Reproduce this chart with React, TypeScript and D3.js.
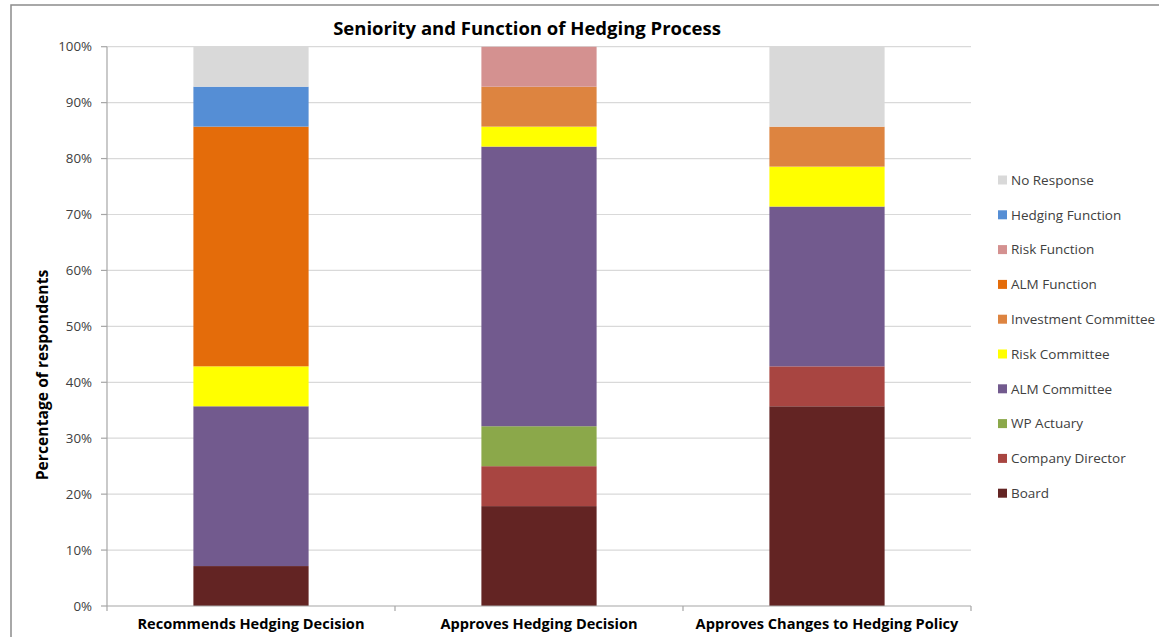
import React from "react";
import * as d3 from "d3";

// Categories along the x axis
const categories = [
  "Recommends Hedging Decision",
  "Approves Hedging Decision",
  "Approves Changes to Hedging Policy",
];

// Series, bottom of the stack first (percent of respondents)
const seriesNames = [
  "Board",
  "Company Director",
  "WP Actuary",
  "ALM Committee",
  "Risk Committee",
  "Investment Committee",
  "ALM Function",
  "Risk Function",
  "Hedging Function",
  "No Response",
];

const board = [7.14, 17.86, 35.71];
const companyDirector = [0, 7.14, 7.14];
const wpActuary = [0, 7.14, 0];
const almCommittee = [28.57, 50.0, 28.57];
const riskCommittee = [7.14, 3.57, 7.14];
const investmentCommittee = [0, 7.14, 7.14];
const almFunction = [42.86, 0, 0];
const riskFunction = [0, 7.14, 0];
const hedgingFunction = [7.14, 0, 0];
const noResponse = [7.15, 0, 14.3];

const seriesValues = [
  board,
  companyDirector,
  wpActuary,
  almCommittee,
  riskCommittee,
  investmentCommittee,
  almFunction,
  riskFunction,
  hedgingFunction,
  noResponse,
];

const seriesColors = [
  "#632423",
  "#a84541",
  "#8ba84a",
  "#725a8e",
  "#ffff00",
  "#dd8440",
  "#e46c0a",
  "#d49190",
  "#558ed5",
  "#d9d9d9",
];

const yTicks = [0, 10, 20, 30, 40, 50, 60, 70, 80, 90, 100];

const W = 1159;
const H = 637;
const plot = { left: 107, right: 971, top: 46.7, bottom: 606 };
const FONT = "'Open Sans', Lato, sans-serif";

export default function App() {
  const x = d3
    .scaleBand<string>()
    .domain(categories)
    .range([plot.left, plot.right])
    .padding(0);
  const y = d3.scaleLinear().domain([0, 100]).range([plot.bottom, plot.top]);
  const barW = x.bandwidth() / 2.5;

  const rows = categories.map((c, i) => {
    const r: Record<string, any> = { category: c };
    seriesNames.forEach((s, k) => (r[s] = seriesValues[k][i]));
    return r;
  });
  const stacked = d3.stack<any>().keys(seriesNames)(rows);

  const legendNames = [...seriesNames].reverse();
  const legendColors = [...seriesColors].reverse();

  const boundaries = [plot.left, ...categories.map((c) => (x(c) as number) + x.bandwidth())];

  return (
    <svg
      width={W}
      height={H}
      style={{ position: "absolute", left: 0, top: 0, display: "block", background: "#fff" }}
      fontFamily={FONT}
    >
      {/* chart frame */}
      <rect x={11} y={5} width={W + 20} height={H + 20} fill="#fff" stroke="#8c8c8c" strokeWidth={1.5} />

      {/* title */}
      <text x={527} y={35} textAnchor="middle" fontSize={18.5} fontWeight={700} fill="#000">
        Seniority and Function of Hedging Process
      </text>

      {/* gridlines */}
      {yTicks.slice(1).map((t) => (
        <line key={t} x1={plot.left} x2={plot.right} y1={y(t)} y2={y(t)} stroke="#d9d9d9" strokeWidth={1.2} />
      ))}

      {/* bars */}
      {stacked.map((layer, k) => (
        <g key={layer.key} fill={seriesColors[k]}>
          {layer.map((d, i) => {
            const h = y(d[0]) - y(d[1]);
            if (h <= 0) return null;
            const cx = (x(categories[i]) as number) + x.bandwidth() / 2;
            return <rect key={i} x={cx - barW / 2} y={y(d[1])} width={barW} height={h} />;
          })}
        </g>
      ))}

      {/* y axis */}
      <line x1={plot.left} x2={plot.left} y1={plot.top} y2={plot.bottom} stroke="#a6a6a6" strokeWidth={1.2} />
      {yTicks.map((t) => (
        <g key={t}>
          <line x1={plot.left - 6} x2={plot.left} y1={y(t)} y2={y(t)} stroke="#a6a6a6" strokeWidth={1.2} />
          <text x={92} y={y(t)} dy="0.35em" textAnchor="end" fontSize={13.3} fill="#404040">
            {t}%
          </text>
        </g>
      ))}

      {/* x axis */}
      <line x1={plot.left} x2={plot.right} y1={plot.bottom} y2={plot.bottom} stroke="#a6a6a6" strokeWidth={1.2} />
      {boundaries.map((b, i) => (
        <line key={i} x1={b} x2={b} y1={plot.bottom} y2={plot.bottom + 5} stroke="#a6a6a6" strokeWidth={1.2} />
      ))}
      {categories.map((c) => (
        <text
          key={c}
          x={(x(c) as number) + x.bandwidth() / 2}
          y={629}
          textAnchor="middle"
          fontSize={14.6}
          fontWeight={700}
          fill="#000"
        >
          {c}
        </text>
      ))}

      {/* y axis title */}
      <text
        transform={`translate(48, 375) rotate(-90)`}
        textAnchor="middle"
        fontSize={15.7}
        fontWeight={700}
        fill="#000"
      >
        Percentage of respondents
      </text>

      {/* legend */}
      {legendNames.map((n, i) => {
        const cy = 180 + i * 34.8;
        return (
          <g key={n}>
            <rect x={998} y={cy - 4.5} width={9} height={9} fill={legendColors[i]} />
            <text x={1011} y={cy} dy="0.35em" fontSize={13.5} fill="#404040">
              {n}
            </text>
          </g>
        );
      })}
    </svg>
  );
}
